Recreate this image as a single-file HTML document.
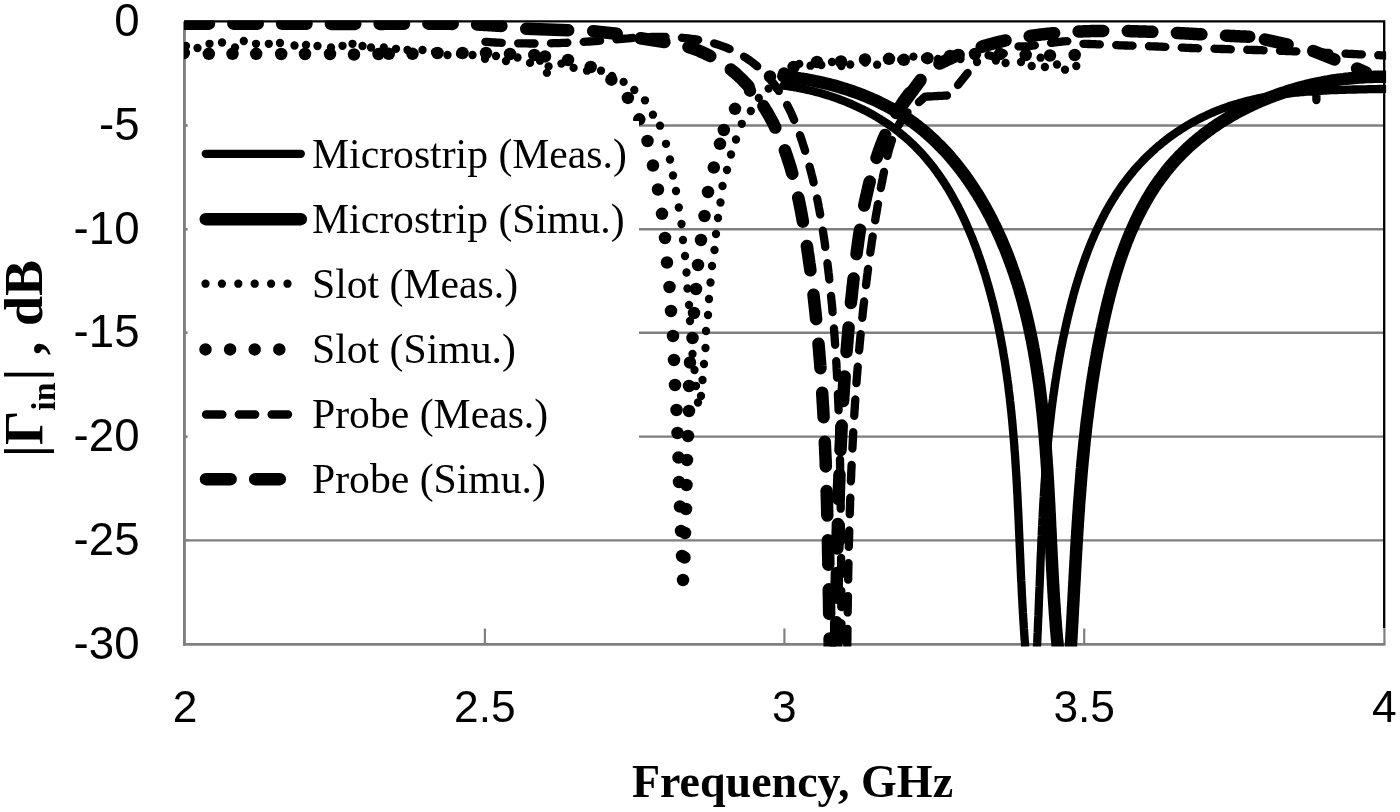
<!DOCTYPE html>
<html><head><meta charset="utf-8"><title>Reflection coefficient</title>
<style>html,body{margin:0;padding:0;background:#fff;}body{width:1400px;height:812px;position:relative;overflow:hidden;font-family:"Liberation Sans",sans-serif;}</style>
</head><body>
<svg width="1400" height="812" viewBox="0 0 1400 812" style="position:absolute;left:0;top:0;will-change:transform">
<defs><clipPath id="pc"><rect x="184.0" y="20.4" width="1202.1" height="626.2"/></clipPath></defs>
<rect width="1400" height="812" fill="#fff"/>
<line x1="185.0" y1="125.50" x2="1384.0" y2="125.50" stroke="#7f7f7f" stroke-width="2.4"/>
<line x1="185.0" y1="229.30" x2="1384.0" y2="229.30" stroke="#7f7f7f" stroke-width="2.4"/>
<line x1="185.0" y1="332.70" x2="1384.0" y2="332.70" stroke="#7f7f7f" stroke-width="2.4"/>
<line x1="185.0" y1="436.60" x2="1384.0" y2="436.60" stroke="#7f7f7f" stroke-width="2.4"/>
<line x1="185.0" y1="540.40" x2="1384.0" y2="540.40" stroke="#7f7f7f" stroke-width="2.4"/>
<line x1="184.45" y1="21.4" x2="184.45" y2="645.8" stroke="#7f7f7f" stroke-width="2.9"/>
<line x1="183.0" y1="644.4" x2="1385.4" y2="644.4" stroke="#7f7f7f" stroke-width="2.8"/>
<line x1="484.9" y1="628.5" x2="484.9" y2="644.4" stroke="#7f7f7f" stroke-width="2.2"/>
<line x1="784.4" y1="628.5" x2="784.4" y2="644.4" stroke="#7f7f7f" stroke-width="2.2"/>
<line x1="1084.2" y1="628.5" x2="1084.2" y2="644.4" stroke="#7f7f7f" stroke-width="2.2"/>
<line x1="1384.4" y1="628.5" x2="1384.4" y2="644.4" stroke="#7f7f7f" stroke-width="2.2"/>
<line x1="185.0" y1="125.5" x2="188.5" y2="125.5" stroke="#7f7f7f" stroke-width="1.8"/>
<line x1="185.0" y1="229.3" x2="188.5" y2="229.3" stroke="#7f7f7f" stroke-width="1.8"/>
<line x1="185.0" y1="332.7" x2="188.5" y2="332.7" stroke="#7f7f7f" stroke-width="1.8"/>
<line x1="185.0" y1="436.6" x2="188.5" y2="436.6" stroke="#7f7f7f" stroke-width="1.8"/>
<line x1="185.0" y1="540.4" x2="188.5" y2="540.4" stroke="#7f7f7f" stroke-width="1.8"/>
<path d="M184.5 21.4H1384.2V628.3" fill="none" stroke="#000" stroke-width="2.3"/>
<g clip-path="url(#pc)" fill="none" stroke="#000" stroke-linecap="round" stroke-linejoin="round">
<g fill="#000" stroke="none">
<circle cx="186.0" cy="46.0" r="4.15"/>
<circle cx="197.5" cy="48.0" r="4.15"/>
<circle cx="209.5" cy="43.8" r="4.15"/>
<circle cx="222.0" cy="42.5" r="4.15"/>
<circle cx="235.0" cy="47.5" r="4.15"/>
<circle cx="243.8" cy="41.0" r="4.15"/>
<circle cx="256.0" cy="43.8" r="4.15"/>
<circle cx="268.8" cy="43.8" r="4.15"/>
<circle cx="280.0" cy="43.0" r="4.15"/>
<circle cx="294.5" cy="45.5" r="4.15"/>
<circle cx="306.0" cy="45.0" r="4.15"/>
<circle cx="317.5" cy="46.0" r="4.15"/>
<circle cx="331.0" cy="47.5" r="4.15"/>
<circle cx="342.5" cy="45.8" r="4.15"/>
<circle cx="352.5" cy="43.8" r="4.15"/>
<circle cx="362.5" cy="46.0" r="4.15"/>
<circle cx="371.0" cy="47.5" r="4.15"/>
<circle cx="383.8" cy="47.5" r="4.15"/>
<circle cx="396.0" cy="48.8" r="4.15"/>
<circle cx="407.5" cy="50.0" r="4.15"/>
<circle cx="422.5" cy="50.0" r="4.15"/>
<circle cx="435.0" cy="52.0" r="4.15"/>
<circle cx="447.5" cy="55.0" r="4.15"/>
<circle cx="460.0" cy="54.0" r="4.15"/>
<circle cx="472.5" cy="55.0" r="4.15"/>
<circle cx="485.0" cy="58.8" r="4.15"/>
<circle cx="496.0" cy="56.0" r="4.15"/>
<circle cx="506.0" cy="61.0" r="4.15"/>
<circle cx="517.5" cy="57.5" r="4.15"/>
<circle cx="530.0" cy="62.9" r="4.15"/>
<circle cx="540.0" cy="60.7" r="4.15"/>
<circle cx="548.6" cy="66.4" r="4.15"/>
<circle cx="546.9" cy="72.9" r="4.15"/>
<circle cx="561.4" cy="63.6" r="4.15"/>
<circle cx="573.6" cy="67.9" r="4.15"/>
<circle cx="587.0" cy="70.7" r="4.15"/>
<circle cx="601.0" cy="70.7" r="4.15"/>
<circle cx="612.0" cy="76.0" r="4.15"/>
<circle cx="623.6" cy="81.9" r="4.15"/>
<circle cx="634.3" cy="90.0" r="4.15"/>
<circle cx="645.0" cy="100.3" r="4.15"/>
<circle cx="652.9" cy="114.7" r="4.15"/>
<circle cx="660.0" cy="125.7" r="4.15"/>
<circle cx="666.0" cy="143.8" r="4.15"/>
<circle cx="670.0" cy="159.5" r="4.15"/>
<circle cx="673.0" cy="175.5" r="4.15"/>
<circle cx="676.0" cy="191.0" r="4.15"/>
<circle cx="678.8" cy="207.5" r="4.15"/>
<circle cx="681.5" cy="224.0" r="4.15"/>
<circle cx="683.0" cy="240.0" r="4.15"/>
<circle cx="685.0" cy="256.0" r="4.15"/>
<circle cx="686.5" cy="272.5" r="4.15"/>
<circle cx="687.5" cy="288.5" r="4.15"/>
<circle cx="689.0" cy="305.0" r="4.15"/>
<circle cx="690.0" cy="321.0" r="4.15"/>
<circle cx="691.0" cy="337.0" r="4.15"/>
<circle cx="692.5" cy="354.0" r="4.15"/>
<circle cx="694.5" cy="370.0" r="4.15"/>
<circle cx="696.0" cy="386.0" r="4.15"/>
<circle cx="698.0" cy="402.5" r="4.15"/>
<circle cx="701.0" cy="396.0" r="4.15"/>
<circle cx="702.5" cy="380.0" r="4.15"/>
<circle cx="704.0" cy="364.0" r="4.15"/>
<circle cx="705.5" cy="348.0" r="4.15"/>
<circle cx="706.0" cy="331.0" r="4.15"/>
<circle cx="708.0" cy="315.0" r="4.15"/>
<circle cx="709.0" cy="299.0" r="4.15"/>
<circle cx="710.5" cy="282.5" r="4.15"/>
<circle cx="712.0" cy="266.0" r="4.15"/>
<circle cx="714.5" cy="250.0" r="4.15"/>
<circle cx="716.0" cy="234.0" r="4.15"/>
<circle cx="718.0" cy="218.0" r="4.15"/>
<circle cx="720.5" cy="202.5" r="4.15"/>
<circle cx="722.5" cy="186.0" r="4.15"/>
<circle cx="727.0" cy="170.0" r="4.15"/>
<circle cx="731.0" cy="154.5" r="4.15"/>
<circle cx="736.0" cy="139.5" r="4.15"/>
<circle cx="741.8" cy="123.8" r="4.15"/>
<circle cx="750.8" cy="111.0" r="4.15"/>
<circle cx="758.8" cy="98.0" r="4.15"/>
<circle cx="768.6" cy="88.6" r="4.15"/>
<circle cx="777.0" cy="88.6" r="4.15"/>
<circle cx="782.9" cy="74.3" r="4.15"/>
<circle cx="792.9" cy="67.9" r="4.15"/>
<circle cx="799.3" cy="63.9" r="4.15"/>
<circle cx="810.5" cy="65.7" r="4.15"/>
<circle cx="821.3" cy="65.0" r="4.15"/>
<circle cx="832.0" cy="62.0" r="4.15"/>
<circle cx="841.4" cy="66.1" r="4.15"/>
<circle cx="850.2" cy="64.5" r="4.15"/>
<circle cx="865.4" cy="62.6" r="4.15"/>
<circle cx="877.1" cy="64.7" r="4.15"/>
<circle cx="888.0" cy="59.8" r="4.15"/>
<circle cx="901.2" cy="59.7" r="4.15"/>
<circle cx="913.4" cy="56.6" r="4.15"/>
<circle cx="925.0" cy="58.0" r="4.15"/>
<circle cx="938.0" cy="59.0" r="4.15"/>
<circle cx="949.0" cy="57.0" r="4.15"/>
<circle cx="960.5" cy="59.0" r="4.15"/>
<circle cx="977.0" cy="62.0" r="4.15"/>
<circle cx="995.9" cy="60.6" r="4.15"/>
<circle cx="1005.6" cy="63.0" r="4.15"/>
<circle cx="1021.0" cy="62.0" r="4.15"/>
<circle cx="1031.7" cy="66.0" r="4.15"/>
<circle cx="1040.6" cy="57.7" r="4.15"/>
<circle cx="1044.9" cy="67.0" r="4.15"/>
<circle cx="1057.0" cy="64.5" r="4.15"/>
<circle cx="1065.0" cy="69.7" r="4.15"/>
<circle cx="1076.3" cy="66.0" r="4.15"/>
<circle cx="183.8" cy="53.0" r="6.25"/>
<circle cx="208.8" cy="53.8" r="6.25"/>
<circle cx="232.5" cy="53.8" r="6.25"/>
<circle cx="256.2" cy="53.8" r="6.25"/>
<circle cx="281.2" cy="54.0" r="6.25"/>
<circle cx="305.0" cy="54.0" r="6.25"/>
<circle cx="330.0" cy="54.0" r="6.25"/>
<circle cx="354.0" cy="54.5" r="6.25"/>
<circle cx="378.5" cy="54.0" r="6.25"/>
<circle cx="388.8" cy="53.8" r="6.25"/>
<circle cx="412.5" cy="53.8" r="6.25"/>
<circle cx="437.5" cy="53.0" r="6.25"/>
<circle cx="462.5" cy="53.0" r="6.25"/>
<circle cx="486.0" cy="53.0" r="6.25"/>
<circle cx="510.0" cy="54.0" r="6.25"/>
<circle cx="534.3" cy="55.0" r="6.25"/>
<circle cx="545.0" cy="56.4" r="6.25"/>
<circle cx="568.0" cy="60.0" r="6.25"/>
<circle cx="590.7" cy="67.0" r="6.25"/>
<circle cx="611.4" cy="79.7" r="6.25"/>
<circle cx="627.9" cy="97.9" r="6.25"/>
<circle cx="639.3" cy="119.3" r="6.25"/>
<circle cx="647.5" cy="141.0" r="6.25"/>
<circle cx="653.0" cy="165.5" r="6.25"/>
<circle cx="658.0" cy="189.5" r="6.25"/>
<circle cx="662.0" cy="213.8" r="6.25"/>
<circle cx="665.0" cy="238.0" r="6.25"/>
<circle cx="667.0" cy="262.5" r="6.25"/>
<circle cx="669.5" cy="287.0" r="6.25"/>
<circle cx="671.0" cy="311.0" r="6.25"/>
<circle cx="673.0" cy="336.0" r="6.25"/>
<circle cx="674.0" cy="360.0" r="6.25"/>
<circle cx="675.0" cy="385.0" r="6.25"/>
<circle cx="676.5" cy="410.0" r="6.25"/>
<circle cx="677.5" cy="433.0" r="6.25"/>
<circle cx="678.5" cy="457.5" r="6.25"/>
<circle cx="679.0" cy="482.0" r="6.25"/>
<circle cx="680.0" cy="506.5" r="6.25"/>
<circle cx="681.0" cy="531.0" r="6.25"/>
<circle cx="682.0" cy="556.0" r="6.25"/>
<circle cx="683.0" cy="580.0" r="6.25"/>
<circle cx="684.5" cy="557.5" r="6.25"/>
<circle cx="685.0" cy="533.0" r="6.25"/>
<circle cx="686.0" cy="509.0" r="6.25"/>
<circle cx="686.5" cy="485.0" r="6.25"/>
<circle cx="687.0" cy="460.0" r="6.25"/>
<circle cx="688.0" cy="436.0" r="6.25"/>
<circle cx="689.0" cy="411.0" r="6.25"/>
<circle cx="689.0" cy="386.0" r="6.25"/>
<circle cx="690.0" cy="362.5" r="6.25"/>
<circle cx="692.5" cy="338.0" r="6.25"/>
<circle cx="694.0" cy="313.0" r="6.25"/>
<circle cx="696.0" cy="289.0" r="6.25"/>
<circle cx="698.0" cy="265.0" r="6.25"/>
<circle cx="701.0" cy="240.0" r="6.25"/>
<circle cx="704.5" cy="216.0" r="6.25"/>
<circle cx="708.0" cy="192.0" r="6.25"/>
<circle cx="713.8" cy="167.5" r="6.25"/>
<circle cx="720.0" cy="143.8" r="6.25"/>
<circle cx="723.8" cy="130.0" r="6.25"/>
<circle cx="735.0" cy="108.8" r="6.25"/>
<circle cx="750.0" cy="90.7" r="6.25"/>
<circle cx="770.0" cy="76.4" r="6.25"/>
<circle cx="784.0" cy="73.6" r="6.25"/>
<circle cx="793.6" cy="67.0" r="6.25"/>
<circle cx="817.0" cy="62.0" r="6.25"/>
<circle cx="841.0" cy="61.5" r="6.25"/>
<circle cx="865.0" cy="59.5" r="6.25"/>
<circle cx="889.0" cy="58.8" r="6.25"/>
<circle cx="903.9" cy="59.8" r="6.25"/>
<circle cx="927.5" cy="58.2" r="6.25"/>
<circle cx="950.0" cy="56.0" r="6.25"/>
<circle cx="975.0" cy="54.0" r="6.25"/>
<circle cx="1000.0" cy="54.0" r="6.25"/>
<circle cx="1025.7" cy="55.0" r="6.25"/>
<circle cx="1050.0" cy="55.5" r="6.25"/>
<circle cx="1074.7" cy="55.0" r="6.25"/>
</g>
<path d="M483.9 41.7L487.0 41.9L490.0 42.1L493.1 42.3L496.1 42.5L499.2 42.6L502.2 42.8L505.2 42.9L508.3 43.0L511.3 43.1L514.3 43.2L517.3 43.3L520.4 43.3L523.4 43.4L526.4 43.4L529.4 43.5L532.4 43.5L535.4 43.5L538.4 43.5L541.4 43.4L544.4 43.4L547.4 43.4L550.4 43.3L553.4 43.2L556.4 43.1L559.4 43.1L562.4 42.9L565.4 42.8L568.4 42.7L571.4 42.6L574.4 42.4L577.3 42.3L580.3 42.1L583.3 41.9L586.3 41.7L589.3 41.5L592.2 41.3L595.2 41.1L598.2 40.8L601.2 40.6L604.2 40.4L607.1 40.1L610.1 39.8L613.1 39.6L616.1 39.3L619.0 39.1L622.0 38.8L625.0 38.6L628.0 38.4L631.0 38.1L634.0 37.9L637.0 37.7L640.0 37.5L643.0 37.4L646.0 37.2L649.0 37.1L652.0 37.0L655.0 37.0L658.0 36.9L661.1 36.9L664.1 36.9L667.1 37.0L670.2 37.1L673.2 37.2L676.3 37.4L679.3 37.6L682.4 37.8L685.4 38.1L688.4 38.4L691.5 38.8L694.5 39.2L697.5 39.7L700.5 40.2L703.4 40.8L706.4 41.5L709.3 42.2L712.2 42.9L715.1 43.7L718.0 44.6L720.8 45.6L723.6 46.6L726.4 47.7L729.2 48.8L731.9 50.0L734.6 51.3L737.2 52.7L739.8 54.1L742.4 55.6L744.9 57.2L747.4 58.8L749.8 60.5L752.2 62.3L754.6 64.1L756.9 66.0L759.1 67.9L761.3 70.0L763.4 72.0L765.5 74.1L767.5 76.3L769.5 78.5L771.4 80.8L773.3 83.1L775.1 85.5L776.8 87.9L778.5 90.4L780.1 92.9L781.7 95.4L783.3 98.0L784.8 100.6L786.2 103.2L787.6 105.9L789.0 108.6L790.3 111.3L791.6 114.1L792.8 116.9L794.0 119.7L795.2 122.5L796.3 125.3L797.4 128.2L798.5 131.1L799.5 133.9L800.6 136.8L801.5 139.7L802.5 142.6L803.4 145.6L804.4 148.5L805.3 151.4L806.1 154.3L807.0 157.2L807.8 160.2L808.6 163.1L809.4 166.0L810.2 169.0L811.0 171.9L811.7 174.8L812.5 177.8L813.2 180.7L813.9 183.6L814.5 186.6L815.2 189.5L815.8 192.5L816.5 195.4L817.1 198.4L817.7 201.3L818.3 204.3L818.8 207.2L819.4 210.2L819.9 213.1L820.5 216.1L821.0 219.0L821.5 222.0L822.0 225.0L822.5 227.9L822.9 230.9L823.4 233.9L823.8 236.8L824.3 239.8L824.7 242.8L825.1 245.7L825.5 248.7L825.9 251.7L826.3 254.6L826.7 257.6L827.1 260.6L827.5 263.6L827.8 266.6L828.2 269.5L828.5 272.5L828.9 275.5L829.2 278.5L829.6 281.5L829.9 284.5L830.2 287.5L830.5 290.4L830.8 293.4L831.1 296.4L831.4 299.4L831.7 302.4L832.0 305.4L832.3 308.4L832.5 311.4L832.8 314.4L833.1 317.4L833.3 320.4L833.6 323.4L833.8 326.4L834.0 329.4L834.3 332.4L834.5 335.4L834.7 338.4L834.9 341.4L835.1 344.4L835.3 347.4L835.5 350.4L835.7 353.4L835.9 356.4L836.1 359.4L836.3 362.4L836.5 365.4L836.6 368.5L836.8 371.5L837.0 374.5L837.1 377.5L837.3 380.5L837.4 383.5L837.6 386.5L837.7 389.5L837.8 392.6L838.0 395.6L838.1 398.6L838.2 401.6L838.4 404.6L838.5 407.6L838.6 410.7L838.7 413.7L838.8 416.7L838.9 419.7L839.0 422.7L839.1 425.7L839.2 428.8L839.3 431.8L839.4 434.8L839.5 437.8L839.5 440.8L839.6 443.9L839.7 446.9L839.8 449.9L839.8 452.9L839.9 456.0L840.0 459.0L840.0 462.0L840.1 465.0L840.1 468.0L840.2 471.1L840.3 474.1L840.3 477.1L840.4 480.1L840.4 483.2L840.4 486.2L840.5 489.2L840.5 492.2L840.6 495.2L840.6 498.3L840.6 501.3L840.7 504.3L840.7 507.3L840.7 510.4L840.8 513.4L840.8 516.4L840.8 519.4L840.8 522.4L840.9 525.5L840.9 528.5L840.9 531.5L840.9 534.5L841.0 537.5L841.0 540.6L841.0 543.6L841.0 546.6L841.0 549.6L841.0 552.6L841.1 555.7L841.1 558.7L841.1 561.7L841.1 564.7L841.1 567.7L841.1 570.7L841.2 573.8L841.2 576.8L841.2 579.8L841.2 582.8L841.2 585.8L841.2 588.8L841.3 591.8L841.3 594.9L841.3 597.9L841.3 600.9L841.3 603.9L841.3 606.9L841.4 609.9L841.4 612.9L841.4 615.9L841.4 618.9L841.4 621.9L841.5 624.9L841.5 627.9L841.5 631.0L841.5 634.0L841.6 637.0L841.6 640.0L841.6 643.0L841.7 646.0L841.7 649.0L841.7 652.0L841.8 655.0L841.8 658.0L841.9 661.0L841.9 663.9L842.0 666.9L842.0 669.9" stroke-width="8.3" stroke-dasharray="16.40 16.40" stroke-dashoffset="31.30"/>
<path d="M847.1 670.0L847.1 668.1L847.1 666.3L847.1 664.4L847.2 662.5L847.2 660.6L847.2 658.7L847.2 656.8L847.2 654.9L847.2 653.0L847.2 651.1L847.3 649.2L847.3 647.3L847.3 645.4L847.3 643.5L847.3 641.6L847.4 639.7L847.4 637.8L847.4 635.9L847.4 634.0L847.4 632.1L847.5 630.2L847.5 628.3L847.5 626.5L847.5 624.6L847.5 622.7L847.6 620.8L847.6 618.9L847.6 617.0L847.6 615.1L847.7 613.2L847.7 611.3L847.7 609.4L847.7 607.5L847.8 605.6L847.8 603.7L847.8 601.8L847.8 599.9L847.9 598.0L847.9 596.1L847.9 594.3L847.9 592.4L848.0 590.5L848.0 588.6L848.0 586.7L848.1 584.8L848.1 582.9L848.1 581.0L848.2 579.1L848.2 577.2L848.2 575.3L848.3 573.4L848.3 571.5L848.3 569.6L848.4 567.8L848.4 565.9L848.5 564.0L848.5 562.1L848.5 560.2L848.6 558.3L848.6 556.4L848.7 554.5L848.7 552.6L848.7 550.7L848.8 548.8L848.8 546.9L848.9 545.1L848.9 543.2L849.0 541.3L849.0 539.4L849.1 537.5L849.1 535.6L849.2 533.7L849.2 531.8L849.3 529.9L849.3 528.0L849.4 526.1L849.4 524.3L849.5 522.4L849.5 520.5L849.6 518.6L849.7 516.7L849.7 514.8L849.8 512.9L849.8 511.0L849.9 509.1L850.0 507.2L850.0 505.4L850.1 503.5L850.1 501.6L850.2 499.7L850.3 497.8L850.4 495.9L850.4 494.0L850.5 492.1L850.6 490.2L850.6 488.3L850.7 486.5L850.8 484.6L850.9 482.7L850.9 480.8L851.0 478.9L851.1 477.0L851.2 475.1L851.2 473.2L851.3 471.3L851.4 469.5L851.5 467.6L851.6 465.7L851.7 463.8L851.7 461.9L851.8 460.0L851.9 458.1L852.0 456.2L852.1 454.3L852.2 452.5L852.3 450.6L852.4 448.7L852.5 446.8L852.6 444.9L852.7 443.0L852.8 441.1L852.9 439.2L853.0 437.4L853.1 435.5L853.2 433.6L853.3 431.7L853.4 429.8L853.5 427.9L853.6 426.0L853.7 424.1L853.8 422.2L853.9 420.4L854.1 418.5L854.2 416.6L854.3 414.7L854.4 412.8L854.5 410.9L854.7 409.0L854.8 407.2L854.9 405.3L855.0 403.4L855.2 401.5L855.3 399.6L855.4 397.7L855.5 395.8L855.7 393.9L855.8 392.1L855.9 390.2L856.1 388.3L856.2 386.4L856.4 384.5L856.5 382.6L856.6 380.7L856.8 378.9L856.9 377.0L857.1 375.1L857.2 373.2L857.4 371.3L857.5 369.4L857.7 367.5L857.8 365.6L858.0 363.8L858.1 361.9L858.3 360.0L858.5 358.1L858.6 356.2L858.8 354.3L859.0 352.4L859.1 350.6L859.3 348.7L859.5 346.8L859.6 344.9L859.8 343.0L860.0 341.1L860.2 339.2L860.3 337.4L860.5 335.5L860.7 333.6L860.9 331.7L861.1 329.8L861.3 327.9L861.4 326.0L861.6 324.2L861.8 322.3L862.0 320.4L862.2 318.5L862.4 316.6L862.6 314.7L862.8 312.9L863.0 311.0L863.2 309.1L863.4 307.2L863.6 305.3L863.9 303.4L864.1 301.5L864.3 299.7L864.5 297.8L864.7 295.9L864.9 294.0L865.2 292.1L865.4 290.2L865.6 288.4L865.8 286.5L866.1 284.6L866.3 282.7L866.5 280.8L866.8 278.9L867.0 277.1L867.2 275.2L867.5 273.3L867.7 271.4L868.0 269.5L868.2 267.7L868.5 265.8L868.7 263.9L869.0 262.0L869.2 260.1L869.5 258.3L869.7 256.4L870.0 254.5L870.3 252.6L870.5 250.7L870.8 248.9L871.1 247.0L871.4 245.1L871.6 243.2L871.9 241.4L872.2 239.5L872.5 237.6L872.8 235.7L873.0 233.9L873.3 232.0L873.6 230.1L873.9 228.3L874.2 226.4L874.5 224.5L874.8 222.7L875.1 220.8L875.4 218.9L875.7 217.0L876.0 215.2L876.4 213.3L876.7 211.4L877.0 209.6L877.3 207.7L877.6 205.9L878.0 204.0L878.3 202.1L878.6 200.3L878.9 198.4L879.3 196.6L879.6 194.7L880.0 192.8L880.3 191.0L880.6 189.1L881.0 187.3L881.3 185.4L881.7 183.6L882.1 181.7L882.4 179.9L882.8 178.0L883.1 176.2L883.5 174.3L883.9 172.5L884.2 170.6L884.6 168.8L885.0 166.9L885.4 165.1L885.8 163.2L886.2 161.4L886.6 159.6L887.0 157.7L887.4 155.9L887.9 154.1L888.3 152.3L888.8 150.5L889.3 148.7L889.8 146.9L890.4 145.1L890.9 143.3L891.5 141.6L892.1 139.8L892.7 138.1L893.4 136.4L894.1 134.7L894.8 133.0L895.5 131.3L896.3 129.6L897.1 127.9L898.0 126.3L898.9 124.7L899.8 123.1L900.8 121.5L901.8 119.9L902.8 118.4L903.9 116.8L905.1 115.3L906.3 113.8L907.5 112.3" stroke-width="8.3" stroke-dasharray="16.40 16.40" stroke-dashoffset="8.03"/>
<path d="M918.9 102.2L920.1 101.1L921.3 100.1L922.4 99.0L923.6 97.9L924.8 96.9L926.3 96.6L927.9 96.5L929.5 96.5L931.1 96.4L932.7 96.3L934.3 96.2L935.9 96.1L937.5 96.0L939.1 95.9L940.6 95.8L942.2 95.8L943.8 95.7L945.4 95.6L947.0 95.5" stroke-width="8.3"/>
<path d="M958.0 85.0L960.4 82.0L962.8 79.0L965.2 76.0L967.6 73.0" stroke-width="8.3"/>
<path d="M974.0 60.0L975.3 59.5L976.7 59.0L978.0 58.6L979.3 58.1L980.7 57.6L982.0 57.1L983.3 56.7L984.7 56.2L986.0 55.7L987.3 55.2L988.7 55.2L990.0 55.6L991.4 56.0L992.7 56.4L994.1 56.8L995.4 57.2L996.7 57.0L998.0 56.4L999.3 55.8L1000.5 55.1L1001.8 54.5L1003.1 53.9L1004.3 53.2L1005.6 52.6L1006.8 52.0L1008.1 51.3L1009.4 50.7L1010.6 50.1L1011.9 49.4L1013.2 48.8L1014.4 48.2L1015.7 47.6L1017.0 46.9L1018.3 46.4L1019.7 46.4L1021.1 46.4L1022.5 46.4L1023.9 46.4L1025.3 46.4L1026.7 46.4L1028.1 46.4L1029.5 46.2L1030.9 45.9L1032.3 45.7L1033.7 45.5L1035.1 45.3L1036.5 45.0L1037.9 44.8L1039.3 44.6L1040.7 44.4L1042.1 44.1L1043.5 43.9L1044.9 43.8L1046.3 43.6L1047.7 43.4L1049.1 43.2L1050.5 43.0L1051.9 42.9L1053.3 42.7L1054.7 42.5L1056.1 42.3L1057.5 42.2L1058.9 42.0L1060.3 41.8L1061.7 41.6L1063.1 41.4L1064.5 41.3L1065.9 41.1L1067.3 41.2L1068.7 41.5L1070.1 41.8L1071.5 42.1L1072.9 42.4L1074.2 42.7L1075.6 43.0L1077.0 43.3L1078.4 43.6L1079.8 43.7L1081.2 43.7L1082.6 43.8L1084.0 43.8L1085.4 43.9L1086.9 43.9L1088.3 44.0L1089.7 44.0L1091.1 44.1L1092.5 44.1L1093.9 44.2L1095.3 44.2L1096.7 44.3L1098.2 44.4L1099.6 44.4L1101.0 44.5L1102.4 44.5L1103.8 44.6L1105.2 44.6L1106.6 44.7L1108.0 44.8L1109.5 44.8L1110.9 44.9L1112.3 44.9L1113.7 45.0L1115.1 45.1L1116.5 45.1L1117.9 45.2L1119.3 45.3L1120.8 45.3L1122.2 45.4L1123.6 45.4L1125.0 45.5L1126.4 45.5L1127.8 45.6L1129.2 45.6L1130.7 45.7L1132.1 45.7L1133.5 45.8L1134.9 45.8L1136.3 45.8L1137.7 45.9L1139.1 45.9L1140.5 46.0L1142.0 46.0L1143.4 46.1L1144.8 46.1L1146.2 46.2L1147.6 46.2L1149.0 46.2L1150.4 46.3L1151.8 46.3L1153.3 46.4L1154.7 46.4L1156.1 46.5L1157.5 46.5L1158.9 46.6L1160.3 46.6L1161.7 46.7L1163.1 46.8L1164.6 46.8L1166.0 46.9L1167.4 47.0L1168.8 47.0L1170.2 47.1L1171.6 47.2L1173.0 47.2L1174.4 47.3L1175.9 47.3L1177.3 47.4L1178.7 47.5L1180.1 47.5L1181.5 47.6L1182.9 47.7L1184.3 47.7L1185.7 47.8L1187.2 47.9L1188.6 47.9L1190.0 48.0L1191.4 48.0L1192.8 48.1L1194.2 48.1L1195.6 48.2L1197.0 48.2L1198.5 48.3L1199.9 48.3L1201.3 48.3L1202.7 48.4L1204.1 48.4L1205.5 48.5L1206.9 48.5L1208.4 48.6L1209.8 48.6L1211.2 48.7L1212.6 48.7L1214.0 48.7L1215.4 48.8L1216.8 48.8L1218.2 48.9L1219.7 48.9L1221.1 49.0L1222.5 49.0L1223.9 49.0L1225.3 49.1L1226.7 49.1L1228.1 49.2L1229.6 49.2L1231.0 49.3L1232.4 49.3L1233.8 49.3L1235.2 49.4L1236.6 49.4L1238.0 49.5L1239.4 49.5L1240.9 49.6L1242.3 49.6L1243.7 49.7L1245.1 49.7L1246.5 49.7L1247.9 49.8L1249.3 49.8L1250.7 49.9L1252.2 49.9L1253.6 50.0L1255.0 50.0L1256.4 50.0L1257.8 50.1L1259.2 50.1L1260.6 50.2L1262.1 50.2L1263.5 50.3L1264.9 50.3L1266.3 50.3L1267.7 50.4L1269.1 50.4L1270.5 50.5L1271.9 50.5L1273.4 50.6L1274.8 50.6L1276.2 50.7L1277.6 50.7L1279.0 50.7L1280.4 50.8L1281.8 50.8L1283.2 50.9L1284.7 50.9L1286.1 51.0L1287.5 51.0L1288.9 51.1L1290.3 51.1L1291.7 51.2L1293.1 51.3L1294.6 51.3L1296.0 51.4L1297.4 51.5L1298.8 51.5L1300.2 51.6L1301.6 51.7L1303.0 51.7L1304.4 51.8L1305.8 51.8L1307.3 51.9L1308.7 52.0L1310.1 52.0L1311.5 52.1L1312.9 52.2L1314.3 52.2L1315.7 52.3L1317.1 52.4L1318.6 52.4L1320.0 52.5L1321.4 52.6L1322.8 52.6L1324.2 52.7L1325.6 52.8L1327.0 52.8L1328.4 52.9L1329.9 53.0L1331.3 53.0L1332.7 53.1L1334.1 53.2L1335.5 53.2L1336.9 53.3L1338.3 53.3L1339.7 53.4L1341.2 53.5L1342.6 53.5L1344.0 53.6L1345.4 53.7L1346.8 53.7L1348.2 53.8L1349.6 53.9L1351.0 53.9L1352.5 54.0L1353.9 54.1L1355.3 54.1L1356.7 54.2L1358.1 54.3L1359.5 54.3L1360.9 54.4L1362.3 54.4L1363.8 54.5L1365.2 54.6L1366.6 54.6L1368.0 54.7L1369.4 54.8L1370.8 54.8L1372.2 54.9L1373.6 55.0L1375.1 55.0L1376.5 55.1L1377.9 55.2L1379.3 55.2L1380.7 55.3L1382.1 55.3L1383.5 55.4L1384.9 55.5L1386.4 55.5L1387.8 55.6L1389.2 55.7L1390.6 55.7L1392.0 55.8" stroke-width="8.3" stroke-dasharray="16.40 16.40" stroke-dashoffset="17.46"/>
<path d="M180.0 23.8L181.1 23.8L182.2 23.8L183.3 23.8L184.4 23.8L185.6 23.8L186.7 23.8L187.8 23.8L188.9 23.8L190.0 23.8L191.1 23.8L192.2 23.7L193.3 23.7L194.4 23.7L195.6 23.7L196.7 23.7L197.8 23.7L198.9 23.7L200.0 23.7L201.1 23.7L202.2 23.7L203.3 23.7L204.4 23.7L205.6 23.7L206.7 23.7L207.8 23.7L208.9 23.7L210.0 23.7L211.1 23.7L212.2 23.7L213.3 23.7L214.4 23.7L215.5 23.7L216.7 23.7L217.8 23.7L218.9 23.7L220.0 23.7L221.1 23.7L222.2 23.7L223.3 23.7L224.4 23.7L225.5 23.7L226.7 23.7L227.8 23.7L228.9 23.7L230.0 23.7L231.1 23.7L232.2 23.7L233.3 23.7L234.4 23.7L235.5 23.7L236.7 23.7L237.8 23.7L238.9 23.7L240.0 23.7L241.1 23.7L242.2 23.7L243.3 23.7L244.4 23.7L245.5 23.7L246.6 23.7L247.8 23.7L248.9 23.7L250.0 23.7L251.1 23.7L252.2 23.7L253.3 23.7L254.4 23.7L255.5 23.7L256.6 23.7L257.8 23.7L258.9 23.7L260.0 23.7L261.1 23.7L262.2 23.7L263.3 23.7L264.4 23.7L265.5 23.7L266.6 23.7L267.7 23.7L268.9 23.7L270.0 23.7L271.1 23.7L272.2 23.7L273.3 23.7L274.4 23.7L275.5 23.7L276.6 23.7L277.7 23.8L278.9 23.8L280.0 23.8L281.1 23.8L282.2 23.8L283.3 23.8L284.4 23.8L285.5 23.8L286.6 23.8L287.7 23.8L288.8 23.8L290.0 23.8L291.1 23.8L292.2 23.8L293.3 23.8L294.4 23.8L295.5 23.8L296.6 23.8L297.7 23.8L298.8 23.8L300.0 23.8L301.1 23.8L302.2 23.8L303.3 23.8L304.4 23.8L305.5 23.8L306.6 23.8L307.7 23.8L308.8 23.8L309.9 23.8L311.1 23.8L312.2 23.8L313.3 23.8L314.4 23.8L315.5 23.8L316.6 23.8L317.7 23.8L318.8 23.8L319.9 23.8L321.1 23.8L322.2 23.8L323.3 23.8L324.4 23.8L325.5 23.9L326.6 23.9L327.7 23.9L328.8 23.9L329.9 23.9L331.0 23.9L332.2 23.9L333.3 23.9L334.4 23.9L335.5 23.9L336.6 23.9L337.7 23.9L338.8 23.9L339.9 23.9L341.0 23.9L342.2 23.9L343.3 23.9L344.4 23.9L345.5 23.9L346.6 23.9L347.7 23.9L348.8 23.9L349.9 23.9L351.0 23.9L352.1 23.9L353.3 23.9L354.4 23.9L355.5 23.9L356.6 23.9L357.7 23.9L358.8 23.9L359.9 23.9L361.0 23.9L362.1 23.9L363.3 23.9L364.4 23.9L365.5 23.9L366.6 23.9L367.7 23.9L368.8 23.9L369.9 23.9L371.0 23.9L372.1 23.9L373.3 23.9L374.4 23.9L375.5 23.9L376.6 23.9L377.7 23.9L378.8 23.9L379.9 23.9L381.0 23.9L382.1 23.9L383.2 23.9L384.4 23.8L385.5 23.8L386.6 23.8L387.7 23.8L388.8 23.8L389.9 23.8L391.0 23.8L392.1 23.8L393.2 23.8L394.4 23.8L395.5 23.8L396.6 23.8L397.7 23.8L398.8 23.8L399.9 23.8L401.0 23.8L402.1 23.8L403.2 23.8L404.4 23.8L405.5 23.8L406.6 23.8L407.7 23.8L408.8 23.8L409.9 23.8L411.0 23.8L412.1 23.7L413.2 23.7L414.4 23.7L415.5 23.7L416.6 23.7L417.7 23.7L418.8 23.7L419.9 23.7L421.0 23.7L422.1 23.7L423.2 23.7L424.4 23.7L425.5 23.7L426.6 23.7L427.7 23.7L428.8 23.7L429.9 23.7L431.0 23.7L432.1 23.7L433.2 23.7L434.4 23.7L435.5 23.7L436.6 23.7L437.7 23.7L438.8 23.7L439.9 23.7L441.0 23.8L442.1 23.8L443.2 23.8L444.3 23.8L445.5 23.8L446.6 23.8L447.7 23.8L448.8 23.8L449.9 23.8L451.0 23.9L452.1 23.9L453.2 23.9L454.3 23.9L455.5 23.9L456.6 23.9L457.7 24.0L458.8 24.0L459.9 24.0L461.0 24.0L462.1 24.1L463.2 24.1L464.3 24.1L465.4 24.2L466.6 24.2L467.7 24.2L468.8 24.3L469.9 24.3L471.0 24.3L472.1 24.4L473.2 24.4L474.3 24.5L475.4 24.5L476.5 24.5L477.6 24.6L478.8 24.6L479.9 24.7L481.0 24.7L482.1 24.8L483.2 24.9L484.3 24.9L485.4 25.0L486.5 25.0L487.6 25.1L488.7 25.2L489.8 25.2L491.0 25.3L492.1 25.4L493.2 25.4L494.3 25.5L495.4 25.6L496.5 25.7L497.6 25.7L498.7 25.8L499.8 25.9L500.9 26.0L502.0 26.1L503.1 26.2L504.2 26.3L505.4 26.4L506.5 26.5L507.6 26.6L508.7 26.7L509.8 26.8L510.9 26.9L512.0 27.0" stroke-width="12.5" stroke-dasharray="24.38 24.38" stroke-dashoffset="44.15"/>
<path d="M526.2 28.8L568.2 30.2" stroke-width="12.5"/>
<path d="M593.2 31.2L616.8 33.8" stroke-width="12.5"/>
<path d="M640.5 38.3L664.5 42.0" stroke-width="12.5"/>
<path d="M688.5 47.0L690.9 47.8L693.2 48.6L695.5 49.4L697.8 50.3L700.0 51.2L702.2 52.2L704.3 53.2L706.5 54.2L708.6 55.2L710.6 56.3L712.7 57.4L714.7 58.5L716.7 59.7L718.6 60.9L720.5 62.1L722.4 63.3L724.3 64.6L726.1 65.9L727.9 67.2L729.7 68.6L731.4 70.0L733.1 71.4L734.8 72.8L736.5 74.3L738.1 75.8L739.7 77.3L741.3 78.8L742.9 80.3L744.4 81.9L745.9 83.5L747.4 85.1L748.9 86.7L750.3 88.4L751.7 90.1L753.1 91.8L754.4 93.5L755.8 95.2L757.1 96.9L758.4 98.7L759.6 100.5L760.9 102.3L762.1 104.1L763.3 105.9L764.4 107.8L765.6 109.6L766.7 111.5L767.8 113.4L768.9 115.3L770.0 117.2L771.0 119.2L772.1 121.1L773.1 123.0L774.1 125.0L775.0 127.0L776.0 129.0L776.9 131.0L777.8 133.0L778.7 135.0L779.6 137.0L780.5 139.0L781.3 141.1L782.1 143.1L782.9 145.2L783.7 147.3L784.5 149.3L785.3 151.4L786.0 153.5L786.7 155.6L787.4 157.7L788.1 159.8L788.8 161.9L789.5 164.1L790.2 166.2L790.8 168.3L791.4 170.5L792.0 172.6L792.6 174.8L793.2 176.9L793.8 179.1L794.4 181.3L794.9 183.5L795.5 185.6L796.0 187.8L796.5 190.0L797.0 192.2L797.5 194.4L798.0 196.6L798.5 198.8L799.0 201.0L799.4 203.2L799.9 205.5L800.3 207.7L800.8 209.9L801.2 212.1L801.6 214.4L802.0 216.6L802.4 218.8L802.8 221.0L803.2 223.3L803.6 225.5L804.0 227.7L804.4 230.0L804.7 232.2L805.1 234.5L805.5 236.7L805.8 238.9L806.2 241.2L806.5 243.4L806.8 245.7L807.2 247.9L807.5 250.1L807.8 252.4L808.2 254.6L808.5 256.8L808.8 259.1L809.1 261.3L809.4 263.6L809.8 265.8L810.1 268.0L810.4 270.3L810.7 272.5L811.0 274.7L811.2 277.0L811.5 279.2L811.8 281.4L812.1 283.7L812.4 285.9L812.7 288.1L812.9 290.4L813.2 292.6L813.5 294.8L813.7 297.0L814.0 299.3L814.2 301.5L814.5 303.7L814.7 306.0L815.0 308.2L815.2 310.4L815.5 312.7L815.7 314.9L815.9 317.1L816.2 319.4L816.4 321.6L816.6 323.8L816.8 326.0L817.0 328.3L817.3 330.5L817.5 332.7L817.7 335.0L817.9 337.2L818.1 339.4L818.3 341.6L818.5 343.9L818.7 346.1L818.9 348.3L819.1 350.5L819.3 352.8L819.4 355.0L819.6 357.2L819.8 359.4L820.0 361.7L820.2 363.9L820.3 366.1L820.5 368.4L820.7 370.6L820.8 372.8L821.0 375.0L821.1 377.3L821.3 379.5L821.5 381.7L821.6 383.9L821.8 386.2L821.9 388.4L822.1 390.6L822.2 392.8L822.3 395.1L822.5 397.3L822.6 399.5L822.7 401.7L822.9 404.0L823.0 406.2L823.1 408.4L823.3 410.6L823.4 412.9L823.5 415.1L823.6 417.3L823.8 419.5L823.9 421.8L824.0 424.0L824.1 426.2L824.2 428.4L824.3 430.7L824.4 432.9L824.5 435.1L824.6 437.4L824.7 439.6L824.8 441.8L824.9 444.0L825.0 446.3L825.1 448.5L825.2 450.7L825.3 452.9L825.4 455.2L825.5 457.4L825.6 459.6L825.7 461.8L825.7 464.1L825.8 466.3L825.9 468.5L826.0 470.8L826.1 473.0L826.1 475.2L826.2 477.4L826.3 479.7L826.4 481.9L826.4 484.1L826.5 486.4L826.6 488.6L826.6 490.8L826.7 493.0L826.8 495.3L826.8 497.5L826.9 499.7L827.0 502.0L827.0 504.2L827.1 506.4L827.1 508.7L827.2 510.9L827.2 513.1L827.3 515.3L827.4 517.6L827.4 519.8L827.5 522.0L827.5 524.3L827.6 526.5L827.6 528.7L827.7 531.0L827.7 533.2L827.8 535.4L827.8 537.7L827.9 539.9L827.9 542.1L828.0 544.4L828.0 546.6L828.0 548.9L828.1 551.1L828.1 553.3L828.2 555.6L828.2 557.8L828.3 560.0L828.3 562.3L828.3 564.5L828.4 566.8L828.4 569.0L828.5 571.2L828.5 573.5L828.5 575.7L828.6 578.0L828.6 580.2L828.7 582.4L828.7 584.7L828.7 586.9L828.8 589.2L828.8 591.4L828.8 593.7L828.9 595.9L828.9 598.1L829.0 600.4L829.0 602.6L829.0 604.9L829.1 607.1L829.1 609.4L829.1 611.6L829.2 613.9L829.2 616.1L829.2 618.4L829.3 620.6L829.3 622.9L829.4 625.1L829.4 627.4L829.4 629.6L829.5 631.9L829.5 634.1L829.6 636.4L829.6 638.6L829.6 640.9L829.7 643.1L829.7 645.4L829.8 647.6L829.8 649.9L829.8 652.2L829.9 654.4L829.9 656.7L830.0 658.9L830.0 661.2L830.1 663.4L830.1 665.7L830.1 668.0L830.2 670.2" stroke-width="12.5" stroke-dasharray="24.60 24.60" stroke-dashoffset="0.98"/>
<path d="M835.9 670.1L835.9 668.0L835.9 666.0L835.9 664.0L835.9 661.9L836.0 659.9L836.0 657.8L836.0 655.8L836.0 653.8L836.0 651.7L836.0 649.7L836.0 647.6L836.1 645.6L836.1 643.6L836.1 641.5L836.1 639.5L836.1 637.4L836.1 635.4L836.2 633.4L836.2 631.3L836.2 629.3L836.2 627.2L836.2 625.2L836.2 623.2L836.3 621.1L836.3 619.1L836.3 617.1L836.3 615.0L836.4 613.0L836.4 610.9L836.4 608.9L836.4 606.9L836.4 604.8L836.5 602.8L836.5 600.8L836.5 598.7L836.5 596.7L836.6 594.6L836.6 592.6L836.6 590.6L836.7 588.5L836.7 586.5L836.7 584.5L836.7 582.4L836.8 580.4L836.8 578.4L836.8 576.3L836.9 574.3L836.9 572.3L836.9 570.2L837.0 568.2L837.0 566.1L837.0 564.1L837.1 562.1L837.1 560.0L837.2 558.0L837.2 556.0L837.2 553.9L837.3 551.9L837.3 549.9L837.4 547.8L837.4 545.8L837.4 543.8L837.5 541.7L837.5 539.7L837.6 537.7L837.6 535.6L837.7 533.6L837.7 531.6L837.8 529.5L837.8 527.5L837.9 525.5L837.9 523.4L838.0 521.4L838.0 519.4L838.1 517.3L838.1 515.3L838.2 513.3L838.3 511.2L838.3 509.2L838.4 507.2L838.4 505.2L838.5 503.1L838.6 501.1L838.6 499.1L838.7 497.0L838.8 495.0L838.8 493.0L838.9 490.9L839.0 488.9L839.0 486.9L839.1 484.8L839.2 482.8L839.3 480.8L839.3 478.7L839.4 476.7L839.5 474.7L839.6 472.7L839.6 470.6L839.7 468.6L839.8 466.6L839.9 464.5L840.0 462.5L840.0 460.5L840.1 458.4L840.2 456.4L840.3 454.4L840.4 452.3L840.5 450.3L840.6 448.3L840.7 446.3L840.8 444.2L840.9 442.2L841.0 440.2L841.1 438.1L841.2 436.1L841.3 434.1L841.4 432.1L841.5 430.0L841.6 428.0L841.7 426.0L841.8 423.9L841.9 421.9L842.0 419.9L842.1 417.8L842.2 415.8L842.3 413.8L842.5 411.8L842.6 409.7L842.7 407.7L842.8 405.7L842.9 403.6L843.1 401.6L843.2 399.6L843.3 397.6L843.4 395.5L843.6 393.5L843.7 391.5L843.8 389.4L844.0 387.4L844.1 385.4L844.2 383.4L844.4 381.3L844.5 379.3L844.6 377.3L844.8 375.2L844.9 373.2L845.1 371.2L845.2 369.2L845.4 367.1L845.5 365.1L845.7 363.1L845.8 361.0L846.0 359.0L846.1 357.0L846.3 355.0L846.5 352.9L846.6 350.9L846.8 348.9L847.0 346.8L847.1 344.8L847.3 342.8L847.5 340.8L847.6 338.7L847.8 336.7L848.0 334.7L848.2 332.7L848.3 330.6L848.5 328.6L848.7 326.6L848.9 324.5L849.1 322.5L849.3 320.5L849.5 318.5L849.6 316.4L849.8 314.4L850.0 312.4L850.2 310.3L850.4 308.3L850.6 306.3L850.8 304.3L851.0 302.2L851.2 300.2L851.5 298.2L851.7 296.1L851.9 294.1L852.1 292.1L852.3 290.1L852.5 288.0L852.8 286.0L853.0 284.0L853.2 282.0L853.4 279.9L853.7 277.9L853.9 275.9L854.1 273.8L854.4 271.8L854.6 269.8L854.8 267.8L855.1 265.7L855.3 263.7L855.6 261.7L855.8 259.6L856.1 257.6L856.3 255.6L856.6 253.6L856.9 251.5L857.1 249.5L857.4 247.5L857.7 245.5L858.0 243.5L858.2 241.4L858.5 239.4L858.8 237.4L859.1 235.4L859.4 233.4L859.7 231.3L860.1 229.3L860.4 227.3L860.7 225.3L861.0 223.3L861.4 221.3L861.7 219.3L862.1 217.3L862.4 215.3L862.8 213.3L863.2 211.3L863.5 209.3L863.9 207.3L864.3 205.3L864.7 203.3L865.1 201.3L865.6 199.3L866.0 197.4L866.4 195.4L866.9 193.4L867.3 191.4L867.8 189.4L868.2 187.5L868.7 185.5L869.2 183.5L869.7 181.6L870.2 179.6L870.7 177.7L871.2 175.7L871.8 173.8L872.3 171.8L872.9 169.9L873.4 167.9L874.0 166.0L874.6 164.1L875.2 162.1L875.8 160.2L876.4 158.3L877.1 156.4L877.7 154.5L878.4 152.6L879.0 150.7L879.7 148.8L880.4 146.9L881.1 145.0L881.8 143.1L882.6 141.2L883.3 139.3L884.1 137.5L884.9 135.6L885.7 133.8L886.5 131.9L887.3 130.1L888.2 128.2L889.0 126.4L889.9 124.6L890.8 122.8L891.7 121.0L892.7 119.2L893.6 117.4L894.6 115.7L895.6 113.9L896.6 112.2L897.6 110.4L898.7 108.7L899.8 107.0L900.9 105.3L902.0 103.6L903.1 101.9L904.3 100.2L905.5 98.6L906.7 96.9L907.9 95.3L909.2 93.7L910.5 92.1L911.8 90.5L913.1 88.9L914.4 87.3L915.8 85.8L917.2 84.3L918.7 82.7L920.1 81.2L921.6 79.7L923.1 78.3" stroke-width="12.5" stroke-dasharray="24.60 24.60" stroke-dashoffset="25.94"/>
<path d="M903.0 104.0L920.6 80.0" stroke-width="12.5"/>
<path d="M939.5 63.6L940.5 63.1L941.5 62.7L942.4 62.2L943.4 61.7L944.3 61.3L945.3 60.8L946.2 60.3L947.2 59.9L948.2 59.4L949.1 59.0L950.1 58.6L951.1 58.1L952.0 57.7L953.0 57.3L954.0 56.8L955.0 56.4L955.9 56.0L956.9 55.6L957.9 55.2L958.9 54.8L959.8 54.4L960.8 54.0L961.8 53.6L962.8 53.2L963.8 52.9L964.7 52.5L965.7 52.1L966.7 51.7L967.7 51.4L968.7 51.0L969.7 50.7L970.7 50.3L971.6 50.0L972.6 49.6L973.6 49.3L974.6 49.0L975.6 48.6L976.6 48.3L977.6 48.0L978.6 47.7L979.6 47.3L980.6 47.0L981.6 46.7L982.6 46.4L983.6 46.1L984.6 45.8L985.6 45.5L986.6 45.2L987.6 44.9L988.6 44.7L989.6 44.4L990.6 44.1L991.7 43.8L992.7 43.6L993.7 43.3L994.7 43.0L995.7 42.8L996.7 42.5L997.7 42.3L998.7 42.0L999.8 41.8L1000.8 41.5L1001.8 41.3L1002.8 41.1L1003.8 40.8L1004.8 40.6L1005.9 40.4L1006.9 40.2L1007.9 39.9L1008.9 39.7L1010.0 39.5L1011.0 39.3L1012.0 39.1L1013.0 38.9L1014.1 38.7L1015.1 38.5L1016.1 38.3L1017.1 38.1L1018.2 37.9L1019.2 37.7L1020.2 37.6L1021.3 37.4L1022.3 37.2L1023.3 37.0L1024.4 36.9L1025.4 36.7L1026.4 36.5L1027.5 36.4L1028.5 36.2L1029.5 36.1L1030.6 35.9L1031.6 35.8L1032.6 35.6L1033.7 35.5L1034.7 35.3L1035.8 35.2L1036.8 35.1L1037.8 34.9L1038.9 34.8L1039.9 34.7L1041.0 34.5L1042.0 34.4L1043.1 34.3L1044.1 34.2L1045.1 34.1L1046.2 33.9L1047.2 33.8L1048.3 33.7L1049.3 33.6L1050.4 33.5L1051.4 33.4L1052.5 33.3L1053.5 33.2L1054.6 33.1L1055.6 33.0L1056.7 32.9L1057.7 32.9L1058.8 32.8L1059.8 32.7L1060.9 32.6L1061.9 32.5L1063.0 32.5L1064.0 32.4L1065.1 32.3L1066.1 32.2L1067.2 32.2L1068.2 32.1L1069.3 32.0L1070.3 32.0L1071.4 31.9L1072.4 31.9L1073.5 31.8L1074.5 31.7L1075.6 31.7L1076.7 31.6L1077.7 31.6L1078.8 31.5L1079.8 31.5L1080.9 31.5L1081.9 31.4L1083.0 31.4L1084.0 31.3L1085.1 31.3L1086.2 31.3L1087.2 31.2L1088.3 31.2L1089.3 31.2L1090.4 31.1L1091.5 31.1L1092.5 31.1L1093.6 31.1L1094.6 31.1L1095.7 31.0L1096.7 31.0L1097.8 31.0L1098.9 31.0L1099.9 31.0L1101.0 31.0L1102.0 30.9L1103.1 30.9L1104.2 30.9L1105.2 30.9L1106.3 30.9L1107.4 30.9L1108.4 30.9L1109.5 30.9L1110.5 30.9L1111.6 30.9L1112.7 30.9L1113.7 30.9L1114.8 30.9L1115.8 30.9L1116.9 30.9L1118.0 31.0L1119.0 31.0L1120.1 31.0L1121.1 31.0L1122.2 31.0L1123.3 31.0L1124.3 31.0L1125.4 31.1L1126.5 31.1L1127.5 31.1L1128.6 31.1L1129.6 31.1L1130.7 31.2L1131.8 31.2L1132.8 31.2L1133.9 31.2L1134.9 31.3L1136.0 31.3L1137.1 31.3L1138.1 31.4L1139.2 31.4L1140.3 31.4L1141.3 31.5L1142.4 31.5L1143.4 31.5L1144.5 31.6L1145.6 31.6L1146.6 31.6L1147.7 31.7L1148.7 31.7L1149.8 31.8L1150.9 31.8L1151.9 31.8L1153.0 31.9L1154.0 31.9L1155.1 32.0L1156.2 32.0L1157.2 32.1L1158.3 32.1L1159.3 32.1L1160.4 32.2L1161.5 32.2L1162.5 32.3L1163.6 32.3L1164.6 32.4L1165.7 32.4L1166.8 32.5L1167.8 32.5L1168.9 32.6L1169.9 32.6L1171.0 32.7L1172.0 32.7L1173.1 32.8L1174.2 32.8L1175.2 32.9L1176.3 33.0L1177.3 33.0L1178.4 33.1L1179.4 33.1L1180.5 33.2L1181.5 33.2L1182.6 33.3L1183.7 33.3L1184.7 33.4L1185.8 33.5L1186.8 33.5L1187.9 33.6L1188.9 33.6L1190.0 33.7L1191.0 33.7L1192.1 33.8L1193.1 33.9L1194.2 33.9L1195.2 34.0L1196.3 34.0L1197.3 34.1L1198.4 34.2L1199.4 34.2L1200.5 34.3L1201.5 34.3L1202.6 34.4L1203.6 34.4L1204.7 34.5L1205.7 34.6L1206.8 34.6L1207.8 34.7L1208.9 34.7L1209.9 34.8L1211.0 34.9L1212.0 34.9L1213.1 35.0L1214.1 35.0L1215.1 35.1L1216.2 35.1L1217.2 35.2L1218.3 35.3L1219.3 35.3L1220.4 35.4L1221.4 35.4L1222.4 35.5L1223.5 35.5L1224.5 35.6L1225.6 35.6L1226.6 35.7L1227.6 35.7L1228.7 35.8L1229.7 35.9L1230.7 35.9L1231.8 36.0L1232.8 36.0L1233.9 36.1L1234.9 36.1L1235.9 36.2L1237.0 36.2L1238.0 36.3L1239.0 36.3L1240.1 36.4L1241.1 36.4L1242.1 36.4L1243.1 36.5L1244.2 36.5L1245.2 36.6L1246.2 36.6L1247.3 36.7L1248.3 36.7L1249.3 36.7" stroke-width="12.5" stroke-dasharray="24.60 24.60" stroke-dashoffset="3.60"/>
<path d="M1264.9 39.5L1287.6 44.5" stroke-width="12.5"/>
<path d="M1313.2 51.0L1334.5 59.5" stroke-width="12.5"/>
<path d="M1357.0 68.5L1366.0 72.5" stroke-width="12.5"/>
<path d="M783.3 85.6L785.7 85.9L788.0 86.2L790.4 86.6L792.7 87.0L795.0 87.3L797.4 87.8L799.7 88.2L802.0 88.7L804.3 89.1L806.6 89.6L809.0 90.2L811.3 90.7L813.6 91.3L815.9 91.9L818.2 92.5L820.5 93.1L822.7 93.8L825.0 94.5L827.3 95.2L829.5 95.9L831.8 96.6L834.0 97.4L836.3 98.2L838.5 99.0L840.7 99.8L842.9 100.6L845.1 101.5L847.3 102.4L849.5 103.3L851.7 104.2L853.8 105.2L856.0 106.2L858.1 107.2L860.2 108.2L862.3 109.2L864.4 110.3L866.5 111.3L868.6 112.4L870.7 113.6L872.7 114.7L874.7 115.8L876.7 117.0L878.7 118.2L880.7 119.4L882.7 120.7L884.6 121.9L886.6 123.2L888.5 124.5L890.4 125.8L892.3 127.2L894.1 128.5L896.0 129.9L897.8 131.3L899.6 132.7L901.4 134.2L903.2 135.6L904.9 137.1L906.7 138.6L908.4 140.1L910.1 141.7L911.7 143.2L913.4 144.8L915.0 146.4L916.6 148.0L918.2 149.6L919.8 151.3L921.3 152.9L922.8 154.6L924.3 156.3L925.8 158.0L927.3 159.8L928.7 161.5L930.2 163.3L931.6 165.0L933.0 166.8L934.4 168.6L935.7 170.5L937.1 172.3L938.4 174.2L939.7 176.0L941.0 177.9L942.3 179.8L943.5 181.7L944.8 183.6L946.0 185.5L947.2 187.5L948.4 189.4L949.6 191.4L950.7 193.4L951.9 195.4L953.0 197.4L954.1 199.4L955.2 201.4L956.3 203.4L957.4 205.4L958.4 207.5L959.5 209.6L960.5 211.6L961.5 213.7L962.5 215.8L963.5 217.9L964.5 220.0L965.4 222.1L966.4 224.2L967.3 226.3L968.2 228.4L969.1 230.5L970.0 232.7L970.9 234.8L971.8 237.0L972.7 239.1L973.5 241.3L974.3 243.5L975.2 245.6L976.0 247.8L976.8 250.0L977.6 252.1L978.3 254.3L979.1 256.5L979.9 258.7L980.6 260.9L981.4 263.1L982.1 265.3L982.8 267.5L983.5 269.7L984.2 271.9L984.9 274.1L985.6 276.3L986.2 278.5L986.9 280.7L987.5 283.0L988.2 285.2L988.8 287.4L989.4 289.6L990.0 291.9L990.6 294.1L991.2 296.3L991.8 298.6L992.4 300.8L993.0 303.0L993.5 305.3L994.1 307.5L994.6 309.8L995.1 312.0L995.7 314.3L996.2 316.5L996.7 318.8L997.2 321.1L997.7 323.3L998.2 325.6L998.6 327.8L999.1 330.1L999.6 332.4L1000.0 334.7L1000.4 336.9L1000.9 339.2L1001.3 341.5L1001.7 343.8L1002.1 346.0L1002.6 348.3L1003.0 350.6L1003.3 352.9L1003.7 355.2L1004.1 357.5L1004.5 359.8L1004.9 362.1L1005.2 364.3L1005.6 366.6L1005.9 368.9L1006.2 371.2L1006.6 373.5L1006.9 375.8L1007.2 378.1L1007.5 380.4L1007.9 382.8L1008.2 385.1L1008.5 387.4L1008.7 389.7L1009.0 392.0L1009.3 394.3L1009.6 396.6L1009.9 398.9L1010.1 401.2L1010.4 403.6L1010.6 405.9L1010.9 408.2L1011.1 410.5L1011.4 412.8L1011.6 415.2L1011.8 417.5L1012.1 419.8L1012.3 422.1L1012.5 424.4L1012.7 426.8L1012.9 429.1L1013.1 431.4L1013.3 433.8L1013.5 436.1L1013.7 438.4L1013.9 440.7L1014.1 443.1L1014.3 445.4L1014.4 447.7L1014.6 450.1L1014.8 452.4L1015.0 454.7L1015.1 457.1L1015.3 459.4L1015.4 461.7L1015.6 464.1L1015.7 466.4L1015.9 468.7L1016.0 471.1L1016.2 473.4L1016.3 475.7L1016.5 478.1L1016.6 480.4L1016.7 482.8L1016.9 485.1L1017.0 487.4L1017.1 489.8L1017.2 492.1L1017.4 494.4L1017.5 496.8L1017.6 499.1L1017.7 501.4L1017.8 503.8L1017.9 506.1L1018.0 508.4L1018.2 510.8L1018.3 513.1L1018.4 515.4L1018.5 517.8L1018.6 520.1L1018.7 522.4L1018.8 524.8L1018.9 527.1L1019.0 529.4L1019.1 531.8L1019.2 534.1L1019.3 536.4L1019.4 538.8L1019.5 541.1L1019.6 543.4L1019.7 545.7L1019.8 548.1L1019.9 550.4L1020.0 552.7L1020.1 555.0L1020.2 557.4L1020.3 559.7L1020.4 562.0L1020.5 564.3L1020.6 566.7L1020.7 569.0L1020.8 571.3L1020.9 573.6L1021.0 575.9L1021.1 578.2L1021.2 580.5L1021.4 582.9L1021.5 585.2L1021.6 587.5L1021.7 589.8L1021.8 592.1L1021.9 594.4L1022.0 596.7L1022.2 599.0L1022.3 601.3L1022.4 603.6L1022.5 605.9L1022.7 608.2L1022.8 610.5L1022.9 612.8L1023.1 615.1L1023.2 617.4L1023.3 619.7L1023.5 622.0L1023.6 624.2L1023.8 626.5L1023.9 628.8L1024.1 631.1L1024.2 633.4L1024.4 635.6L1024.5 637.9L1024.7 640.2L1024.9 642.5L1025.1 644.7L1025.2 647.0L1025.4 649.3L1025.6 651.5L1025.8 653.8L1026.0 656.0L1026.2 658.3L1026.4 660.6L1026.6 662.8L1026.8 665.1L1027.0 667.3L1027.2 669.6" stroke-width="8.3"/>
<path d="M1035.7 670.3L1035.9 667.5L1036.0 664.8L1036.2 662.1L1036.3 659.3L1036.5 656.6L1036.6 653.9L1036.8 651.2L1036.9 648.4L1037.0 645.7L1037.2 643.0L1037.3 640.3L1037.4 637.6L1037.5 634.9L1037.7 632.2L1037.8 629.5L1037.9 626.8L1038.0 624.1L1038.1 621.4L1038.2 618.7L1038.4 616.0L1038.5 613.3L1038.6 610.6L1038.7 607.9L1038.8 605.2L1038.9 602.5L1039.0 599.9L1039.1 597.2L1039.2 594.5L1039.3 591.8L1039.4 589.2L1039.6 586.5L1039.7 583.8L1039.8 581.1L1039.9 578.5L1040.0 575.8L1040.1 573.2L1040.2 570.5L1040.3 567.8L1040.4 565.2L1040.5 562.5L1040.6 559.9L1040.7 557.2L1040.8 554.6L1041.0 551.9L1041.1 549.2L1041.2 546.6L1041.3 544.0L1041.4 541.3L1041.5 538.7L1041.7 536.0L1041.8 533.4L1041.9 530.7L1042.0 528.1L1042.2 525.5L1042.3 522.8L1042.4 520.2L1042.6 517.5L1042.7 514.9L1042.8 512.3L1043.0 509.6L1043.1 507.0L1043.3 504.4L1043.4 501.7L1043.6 499.1L1043.8 496.5L1043.9 493.8L1044.1 491.2L1044.3 488.6L1044.4 485.9L1044.6 483.3L1044.8 480.7L1045.0 478.1L1045.2 475.4L1045.4 472.8L1045.6 470.2L1045.8 467.6L1046.0 464.9L1046.2 462.3L1046.4 459.7L1046.6 457.1L1046.8 454.4L1047.1 451.8L1047.3 449.2L1047.5 446.6L1047.8 443.9L1048.0 441.3L1048.3 438.7L1048.6 436.1L1048.8 433.4L1049.1 430.8L1049.4 428.2L1049.7 425.5L1050.0 422.9L1050.3 420.3L1050.6 417.7L1050.9 415.0L1051.2 412.4L1051.5 409.8L1051.8 407.1L1052.2 404.5L1052.5 401.9L1052.9 399.3L1053.2 396.6L1053.6 394.0L1054.0 391.4L1054.4 388.7L1054.7 386.1L1055.1 383.5L1055.5 380.8L1056.0 378.2L1056.4 375.5L1056.8 372.9L1057.2 370.3L1057.7 367.6L1058.1 365.0L1058.6 362.3L1059.1 359.7L1059.5 357.0L1060.0 354.4L1060.5 351.8L1061.0 349.1L1061.5 346.5L1062.1 343.8L1062.6 341.1L1063.1 338.5L1063.7 335.8L1064.3 333.2L1064.8 330.5L1065.4 327.9L1066.0 325.2L1066.6 322.5L1067.2 319.9L1067.8 317.2L1068.5 314.6L1069.1 311.9L1069.8 309.2L1070.4 306.6L1071.1 303.9L1071.8 301.3L1072.5 298.6L1073.2 296.0L1073.9 293.3L1074.7 290.7L1075.4 288.1L1076.2 285.4L1077.0 282.8L1077.8 280.2L1078.6 277.6L1079.4 275.0L1080.3 272.4L1081.1 269.8L1082.0 267.2L1082.9 264.6L1083.8 262.0L1084.7 259.5L1085.6 256.9L1086.6 254.3L1087.5 251.8L1088.5 249.3L1089.5 246.8L1090.5 244.2L1091.5 241.7L1092.6 239.2L1093.7 236.8L1094.7 234.3L1095.8 231.8L1097.0 229.4L1098.1 227.0L1099.3 224.6L1100.4 222.1L1101.6 219.8L1102.8 217.4L1104.1 215.0L1105.3 212.7L1106.6 210.3L1107.9 208.0L1109.2 205.7L1110.6 203.4L1111.9 201.2L1113.3 198.9L1114.7 196.7L1116.1 194.4L1117.6 192.2L1119.0 190.1L1120.5 187.9L1122.0 185.7L1123.6 183.6L1125.1 181.5L1126.7 179.4L1128.3 177.4L1129.9 175.3L1131.6 173.3L1133.2 171.3L1134.9 169.3L1136.7 167.3L1138.4 165.4L1140.2 163.5L1142.0 161.6L1143.8 159.7L1145.6 157.8L1147.5 156.0L1149.4 154.2L1151.3 152.4L1153.2 150.7L1155.1 148.9L1157.1 147.2L1159.1 145.5L1161.1 143.9L1163.1 142.2L1165.2 140.6L1167.2 139.0L1169.3 137.4L1171.4 135.9L1173.5 134.4L1175.7 132.9L1177.8 131.4L1180.0 130.0L1182.2 128.6L1184.4 127.2L1186.7 125.8L1188.9 124.5L1191.2 123.2L1193.5 121.9L1195.8 120.6L1198.1 119.4L1200.4 118.2L1202.8 117.0L1205.2 115.9L1207.5 114.8L1209.9 113.7L1212.4 112.6L1214.8 111.6L1217.2 110.6L1219.7 109.6L1222.2 108.7L1224.7 107.8L1227.2 106.9L1229.7 106.0L1232.2 105.2L1234.7 104.4L1237.3 103.7L1239.9 102.9L1242.4 102.2L1245.0 101.5L1247.6 100.8L1250.2 100.2L1252.9 99.6L1255.5 99.0L1258.1 98.4L1260.8 97.9L1263.4 97.4L1266.1 96.9L1268.8 96.4L1271.4 96.0L1274.1 95.5L1276.8 95.1L1279.5 94.7L1282.2 94.3L1284.9 94.0L1287.6 93.7L1290.3 93.3L1293.0 93.0L1295.7 92.7L1298.5 92.5L1301.2 92.2L1303.9 92.0L1306.6 91.7L1309.4 91.5L1312.1 91.3L1314.8 91.1L1317.5 91.0L1320.3 90.8L1323.0 90.6L1325.7 90.5L1328.4 90.4L1331.1 90.2L1333.9 90.1L1336.6 90.0L1339.3 89.9L1342.0 89.8L1344.7 89.8L1347.4 89.7L1350.0 89.6L1352.7 89.5L1355.4 89.5L1358.1 89.4L1360.7 89.4L1363.4 89.3L1366.0 89.3L1368.6 89.2L1371.3 89.2L1373.9 89.1L1376.5 89.1L1379.1 89.0L1381.7 89.0L1384.2 88.9L1386.8 88.9L1389.3 88.8L1391.9 88.8M1316.4 94L1316.4 100" stroke-width="8.3"/>
<path d="M783.3 76.3L785.7 76.5L788.2 76.8L790.6 77.1L793.1 77.4L795.5 77.7L798.0 78.1L800.4 78.5L802.9 78.8L805.3 79.2L807.7 79.7L810.2 80.1L812.6 80.6L815.0 81.1L817.4 81.6L819.9 82.1L822.3 82.6L824.7 83.2L827.1 83.8L829.5 84.4L831.9 85.0L834.3 85.6L836.6 86.3L839.0 87.0L841.4 87.7L843.7 88.4L846.1 89.1L848.4 89.9L850.8 90.7L853.1 91.5L855.4 92.3L857.7 93.1L860.0 94.0L862.3 94.9L864.6 95.8L866.8 96.7L869.1 97.7L871.3 98.6L873.5 99.6L875.8 100.6L878.0 101.6L880.1 102.7L882.3 103.8L884.5 104.9L886.6 106.0L888.8 107.1L890.9 108.3L893.0 109.5L895.1 110.7L897.1 111.9L899.2 113.1L901.2 114.4L903.3 115.7L905.3 117.0L907.3 118.4L909.2 119.7L911.2 121.1L913.1 122.5L915.0 123.9L916.9 125.4L918.8 126.8L920.7 128.3L922.6 129.8L924.4 131.4L926.2 132.9L928.0 134.5L929.8 136.1L931.5 137.7L933.3 139.3L935.0 140.9L936.7 142.6L938.4 144.3L940.1 146.0L941.8 147.7L943.4 149.4L945.1 151.1L946.7 152.9L948.3 154.7L949.9 156.5L951.4 158.3L953.0 160.1L954.5 162.0L956.0 163.8L957.5 165.7L959.0 167.6L960.5 169.5L961.9 171.4L963.4 173.3L964.8 175.2L966.2 177.2L967.6 179.1L969.0 181.1L970.3 183.1L971.7 185.1L973.0 187.1L974.3 189.1L975.6 191.2L976.9 193.2L978.2 195.2L979.4 197.3L980.7 199.4L981.9 201.5L983.1 203.5L984.3 205.6L985.5 207.7L986.7 209.9L987.8 212.0L988.9 214.1L990.1 216.2L991.2 218.4L992.3 220.5L993.3 222.7L994.4 224.9L995.5 227.0L996.5 229.2L997.5 231.4L998.5 233.6L999.5 235.8L1000.5 237.9L1001.5 240.1L1002.4 242.4L1003.3 244.6L1004.3 246.8L1005.2 249.0L1006.1 251.2L1007.0 253.5L1007.8 255.7L1008.7 257.9L1009.5 260.2L1010.4 262.4L1011.2 264.7L1012.0 266.9L1012.8 269.2L1013.6 271.5L1014.4 273.7L1015.1 276.0L1015.9 278.3L1016.6 280.6L1017.4 282.8L1018.1 285.1L1018.8 287.4L1019.5 289.7L1020.1 292.0L1020.8 294.3L1021.5 296.7L1022.1 299.0L1022.8 301.3L1023.4 303.6L1024.0 305.9L1024.6 308.3L1025.2 310.6L1025.8 312.9L1026.4 315.3L1026.9 317.6L1027.5 320.0L1028.0 322.3L1028.6 324.7L1029.1 327.0L1029.6 329.4L1030.1 331.7L1030.6 334.1L1031.1 336.5L1031.6 338.8L1032.1 341.2L1032.5 343.6L1033.0 346.0L1033.4 348.4L1033.9 350.7L1034.3 353.1L1034.7 355.5L1035.1 357.9L1035.5 360.3L1035.9 362.7L1036.3 365.1L1036.7 367.5L1037.1 369.9L1037.4 372.3L1037.8 374.7L1038.1 377.1L1038.5 379.6L1038.8 382.0L1039.2 384.4L1039.5 386.8L1039.8 389.2L1040.1 391.7L1040.4 394.1L1040.7 396.5L1041.0 398.9L1041.3 401.4L1041.6 403.8L1041.8 406.2L1042.1 408.7L1042.4 411.1L1042.6 413.5L1042.9 416.0L1043.1 418.4L1043.4 420.9L1043.6 423.3L1043.8 425.7L1044.0 428.2L1044.3 430.6L1044.5 433.1L1044.7 435.5L1044.9 438.0L1045.1 440.4L1045.3 442.9L1045.5 445.3L1045.7 447.8L1045.9 450.2L1046.0 452.7L1046.2 455.1L1046.4 457.6L1046.6 460.0L1046.7 462.5L1046.9 464.9L1047.1 467.4L1047.2 469.8L1047.4 472.3L1047.5 474.7L1047.7 477.2L1047.8 479.7L1048.0 482.1L1048.1 484.6L1048.2 487.0L1048.4 489.5L1048.5 491.9L1048.6 494.4L1048.8 496.8L1048.9 499.3L1049.0 501.7L1049.2 504.2L1049.3 506.6L1049.4 509.1L1049.5 511.5L1049.6 514.0L1049.8 516.4L1049.9 518.9L1050.0 521.3L1050.1 523.8L1050.2 526.2L1050.3 528.7L1050.5 531.1L1050.6 533.5L1050.7 536.0L1050.8 538.4L1050.9 540.9L1051.0 543.3L1051.1 545.7L1051.3 548.2L1051.4 550.6L1051.5 553.0L1051.6 555.5L1051.7 557.9L1051.9 560.3L1052.0 562.7L1052.1 565.2L1052.2 567.6L1052.3 570.0L1052.5 572.4L1052.6 574.8L1052.7 577.2L1052.9 579.7L1053.0 582.1L1053.1 584.5L1053.3 586.9L1053.4 589.3L1053.5 591.7L1053.7 594.1L1053.8 596.5L1054.0 598.9L1054.1 601.3L1054.3 603.6L1054.5 606.0L1054.6 608.4L1054.8 610.8L1054.9 613.2L1055.1 615.5L1055.3 617.9L1055.5 620.3L1055.7 622.6L1055.8 625.0L1056.0 627.4L1056.2 629.7L1056.4 632.1L1056.6 634.4L1056.8 636.8L1057.0 639.1L1057.3 641.4L1057.5 643.8L1057.7 646.1L1057.9 648.4L1058.2 650.8L1058.4 653.1L1058.7 655.4L1058.9 657.7L1059.2 660.0L1059.4 662.3L1059.7 664.6L1060.0 666.9L1060.3 669.2" stroke-width="12.5"/>
<path d="M1069.5 670.0L1069.6 667.4L1069.8 664.8L1070.0 662.2L1070.1 659.6L1070.3 657.1L1070.4 654.5L1070.6 651.9L1070.7 649.3L1070.9 646.7L1071.0 644.1L1071.2 641.5L1071.3 639.0L1071.5 636.4L1071.6 633.8L1071.8 631.2L1071.9 628.7L1072.1 626.1L1072.2 623.5L1072.4 620.9L1072.5 618.4L1072.6 615.8L1072.8 613.2L1072.9 610.6L1073.0 608.1L1073.2 605.5L1073.3 602.9L1073.5 600.4L1073.6 597.8L1073.7 595.2L1073.9 592.7L1074.0 590.1L1074.1 587.5L1074.3 585.0L1074.4 582.4L1074.6 579.9L1074.7 577.3L1074.8 574.7L1075.0 572.2L1075.1 569.6L1075.3 567.1L1075.4 564.5L1075.5 561.9L1075.7 559.4L1075.8 556.8L1076.0 554.3L1076.1 551.7L1076.3 549.2L1076.4 546.6L1076.6 544.1L1076.7 541.5L1076.9 539.0L1077.0 536.4L1077.2 533.9L1077.3 531.3L1077.5 528.8L1077.7 526.2L1077.8 523.7L1078.0 521.1L1078.2 518.6L1078.3 516.0L1078.5 513.5L1078.7 510.9L1078.9 508.4L1079.0 505.8L1079.2 503.3L1079.4 500.7L1079.6 498.2L1079.8 495.6L1080.0 493.1L1080.2 490.5L1080.4 488.0L1080.6 485.4L1080.8 482.9L1081.0 480.3L1081.2 477.8L1081.4 475.3L1081.6 472.7L1081.8 470.2L1082.1 467.6L1082.3 465.1L1082.5 462.5L1082.8 460.0L1083.0 457.4L1083.3 454.9L1083.5 452.3L1083.8 449.8L1084.0 447.3L1084.3 444.7L1084.5 442.2L1084.8 439.6L1085.1 437.1L1085.4 434.5L1085.7 432.0L1085.9 429.4L1086.2 426.9L1086.5 424.3L1086.8 421.8L1087.1 419.2L1087.5 416.7L1087.8 414.2L1088.1 411.6L1088.4 409.1L1088.8 406.5L1089.1 404.0L1089.4 401.4L1089.8 398.9L1090.2 396.3L1090.5 393.8L1090.9 391.2L1091.3 388.7L1091.6 386.1L1092.0 383.6L1092.4 381.0L1092.8 378.5L1093.2 375.9L1093.6 373.4L1094.0 370.8L1094.5 368.2L1094.9 365.7L1095.3 363.1L1095.8 360.6L1096.2 358.0L1096.7 355.5L1097.1 352.9L1097.6 350.3L1098.1 347.8L1098.6 345.2L1099.1 342.7L1099.6 340.1L1100.1 337.6L1100.6 335.0L1101.1 332.4L1101.6 329.9L1102.2 327.3L1102.7 324.7L1103.3 322.2L1103.8 319.6L1104.4 317.0L1105.0 314.5L1105.6 311.9L1106.2 309.4L1106.8 306.8L1107.4 304.3L1108.0 301.7L1108.7 299.2L1109.3 296.6L1110.0 294.1L1110.6 291.5L1111.3 289.0L1112.0 286.5L1112.7 283.9L1113.4 281.4L1114.2 278.9L1114.9 276.4L1115.6 273.9L1116.4 271.4L1117.2 268.9L1118.0 266.4L1118.8 263.9L1119.6 261.4L1120.4 259.0L1121.3 256.5L1122.1 254.1L1123.0 251.6L1123.9 249.2L1124.8 246.8L1125.7 244.3L1126.6 241.9L1127.6 239.5L1128.6 237.1L1129.5 234.8L1130.5 232.4L1131.6 230.0L1132.6 227.7L1133.6 225.4L1134.7 223.0L1135.8 220.7L1136.9 218.4L1138.0 216.1L1139.1 213.9L1140.3 211.6L1141.5 209.3L1142.6 207.1L1143.9 204.9L1145.1 202.7L1146.3 200.5L1147.6 198.3L1148.9 196.1L1150.2 194.0L1151.5 191.8L1152.9 189.7L1154.2 187.6L1155.6 185.5L1157.0 183.5L1158.5 181.4L1159.9 179.4L1161.4 177.4L1162.9 175.4L1164.4 173.4L1165.9 171.4L1167.5 169.5L1169.1 167.5L1170.7 165.6L1172.3 163.7L1174.0 161.9L1175.7 160.0L1177.4 158.2L1179.1 156.4L1180.8 154.6L1182.6 152.8L1184.4 151.1L1186.2 149.3L1188.0 147.6L1189.9 145.9L1191.7 144.2L1193.6 142.6L1195.5 141.0L1197.4 139.3L1199.4 137.7L1201.4 136.2L1203.3 134.6L1205.3 133.1L1207.4 131.6L1209.4 130.1L1211.5 128.6L1213.5 127.1L1215.6 125.7L1217.7 124.3L1219.8 122.9L1222.0 121.5L1224.1 120.2L1226.3 118.8L1228.5 117.5L1230.7 116.2L1232.9 114.9L1235.1 113.7L1237.4 112.4L1239.6 111.2L1241.9 110.0L1244.2 108.9L1246.5 107.7L1248.8 106.6L1251.1 105.5L1253.5 104.4L1255.8 103.3L1258.2 102.3L1260.5 101.2L1262.9 100.2L1265.3 99.2L1267.7 98.3L1270.1 97.3L1272.6 96.4L1275.0 95.5L1277.4 94.6L1279.9 93.7L1282.3 92.9L1284.8 92.1L1287.3 91.3L1289.8 90.5L1292.3 89.7L1294.8 89.0L1297.3 88.3L1299.8 87.6L1302.3 86.9L1304.9 86.3L1307.4 85.6L1309.9 85.0L1312.5 84.4L1315.0 83.9L1317.6 83.3L1320.2 82.8L1322.7 82.3L1325.3 81.8L1327.9 81.4L1330.5 80.9L1333.0 80.5L1335.6 80.1L1338.2 79.7L1340.8 79.4L1343.4 79.1L1346.0 78.7L1348.6 78.5L1351.2 78.2L1353.8 78.0L1356.4 77.7L1359.0 77.5L1361.6 77.4L1364.2 77.2L1366.8 77.1L1369.5 77.0L1372.1 76.9L1374.7 76.8L1377.3 76.7L1379.9 76.7L1382.5 76.7L1385.1 76.7L1387.7 76.8L1390.3 76.9L1392.9 76.9" stroke-width="12.5"/>
</g>
<rect x="187.6" y="121" width="451.4" height="385" fill="#fff"/>
<g fill="none" stroke="#000" stroke-linecap="round">
<path d="M205.8 153.8H300.8" stroke-width="8.3"/>
<path d="M205.8 219.2H300.8" stroke-width="12.5"/>
<path d="M205.5 283.7H300.8" stroke-width="8.3" stroke-dasharray="0 16.4"/>
<path d="M205.5 349.4H300.8" stroke-width="12.5" stroke-dasharray="0 24.6"/>
<path d="M206 414.5H300.8" stroke-width="8.3" stroke-dasharray="16.4 16.4"/>
<path d="M206 479.2H300.8" stroke-width="12.5" stroke-dasharray="24.6 24.6"/>
</g>
<g font-family="'Liberation Serif', serif" font-size="41.7" fill="#000">
<text x="312" y="167.6">Microstrip (Meas.)</text>
<text x="312" y="233.0">Microstrip (Simu.)</text>
<text x="312" y="298.1">Slot (Meas.)</text>
<text x="312" y="363.2">Slot (Simu.)</text>
<text x="312" y="428.2">Probe (Meas.)</text>
<text x="312" y="493.0">Probe (Simu.)</text>
</g>
<g font-family="'Liberation Sans', sans-serif" font-size="45.6" fill="#000">
<text x="139.5" y="36.2" text-anchor="end">0</text>
<text x="139.5" y="139.8" text-anchor="end">-5</text>
<text x="139.5" y="243.6" text-anchor="end">-10</text>
<text x="139.5" y="347.0" text-anchor="end">-15</text>
<text x="139.5" y="450.9" text-anchor="end">-20</text>
<text x="139.5" y="554.7" text-anchor="end">-25</text>
<text x="139.5" y="659.1" text-anchor="end">-30</text>
<text x="185.0" y="721.8" font-size="44.3" text-anchor="middle">2</text>
<text x="484.9" y="721.8" font-size="44.3" text-anchor="middle">2.5</text>
<text x="784.4" y="721.8" font-size="44.3" text-anchor="middle">3</text>
<text x="1084.2" y="721.8" font-size="44.3" text-anchor="middle">3.5</text>
<text x="1384.4" y="721.8" font-size="44.3" text-anchor="middle">4</text>
</g>
<text x="792.5" y="796.6" text-anchor="middle" font-family="'Liberation Serif', serif" font-weight="bold" font-size="46" fill="#000">Frequency, GHz</text>
<g transform="translate(42 457) rotate(-90)" font-family="'Liberation Serif', serif" font-weight="bold" font-size="54" fill="#000">
<text x="0" y="0">|Γ<tspan font-size="34" dy="12.5">in</tspan><tspan dy="-12.5" dx="1.85">|</tspan> , <tspan dx="2.15">dB</tspan></text>
</g>
</svg>
</body></html>
